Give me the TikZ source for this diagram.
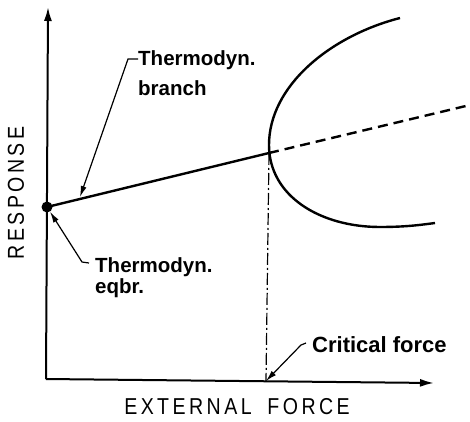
\documentclass[tikz,border=0pt]{standalone}
\usepackage{fontspec}
\setmainfont{Liberation Sans}
\newfontfamily\axisfont[FakeStretch=0.85,LetterSpace=15]{Liberation Sans}
\usetikzlibrary{arrows.meta}

\begin{document}
\begin{tikzpicture}[x=1pt, y=1pt]
    % Node styles
    \tikzstyle{lbl} = [align=left, inner sep=0pt, font=\bfseries\fontsize{20.5}{30}\selectfont]
    \tikzstyle{lbltight} = [align=left, inner sep=0pt, font=\bfseries\fontsize{20.5}{21}\selectfont]
    \tikzstyle{ax} = [inner sep=0pt, font=\axisfont\fontsize{23}{23}\selectfont]
    \tikzstyle{axis} = [line width=2pt, -{Latex[length=14pt,width=8pt]}]
    \tikzstyle{lead} = [line width=1.2pt, -{Latex[length=11pt,width=6pt]}]
    \tikzstyle{curve} = [line width=2.4pt]

    \useasboundingbox (0,0) rectangle (470,421);

    % Points
    \coordinate (o) at (46,42);
    \coordinate (ytip) at (48,414);
    \coordinate (xtip) at (434,38);
    \coordinate (crit) at (269,268);
    \coordinate (critfoot) at (266,40);
    \coordinate (dashend) at (470,316);
    \coordinate (brtip) at (80,224);
    \coordinate (upper) at (400,403);
    \coordinate (nose) at (269,276);
    \coordinate (bottom) at (380,194);
    \coordinate (lower) at (435,198);

    % Nodes
    \node[circle, fill, inner sep=0pt, minimum size=11pt] (eq) at (47,214) {};
    \node[lbl, anchor=north west] (branch) at (138,371) {Thermodyn.\\branch};
    \node[lbltight, anchor=north west] (eqbr) at (95,164) {Thermodyn.\\eqbr.};
    \node[lbl, anchor=base west, font=\bfseries\fontsize{22}{22}\selectfont] (critlbl) at (312,69) {Critical force};
    \node[ax] (xlbl) at (237,14) {EXTERNAL\hspace{7pt} FORCE};
    \node[ax, rotate=90] (ylbl) at (16,228) {RESPONSE};

    % Axes
    \draw[axis] (o) -- (ytip);
    \draw[axis] (o) -- (xtip);

    % Branches
    \draw[curve] (eq.center) -- (crit);
    \draw[curve, dash pattern=on 10pt off 6pt] (crit) -- (dashend);
    \draw[curve] (upper) .. controls (330,385) and (269,335) .. (nose)
        .. controls (269,225) and (320,194) .. (bottom)
        .. controls (405,194) and (420,196) .. (lower);
    \draw[line width=1.2pt, dash pattern=on 12pt off 3pt on 2pt off 3pt] (crit) -- (critfoot);

    % Leaders
    \draw[lead] ([yshift=-9pt]branch.north west) -- ++(-10,0) -- (brtip);
    \draw[lead] ([xshift=-6pt,yshift=-6pt]eqbr.north west) -- ++(-7,1) -- (eq);
    \draw[lead] ([xshift=-6pt,yshift=9pt]critlbl.base west) -- ++(-5,-2) -- (critfoot);

\end{tikzpicture}
\end{document}
